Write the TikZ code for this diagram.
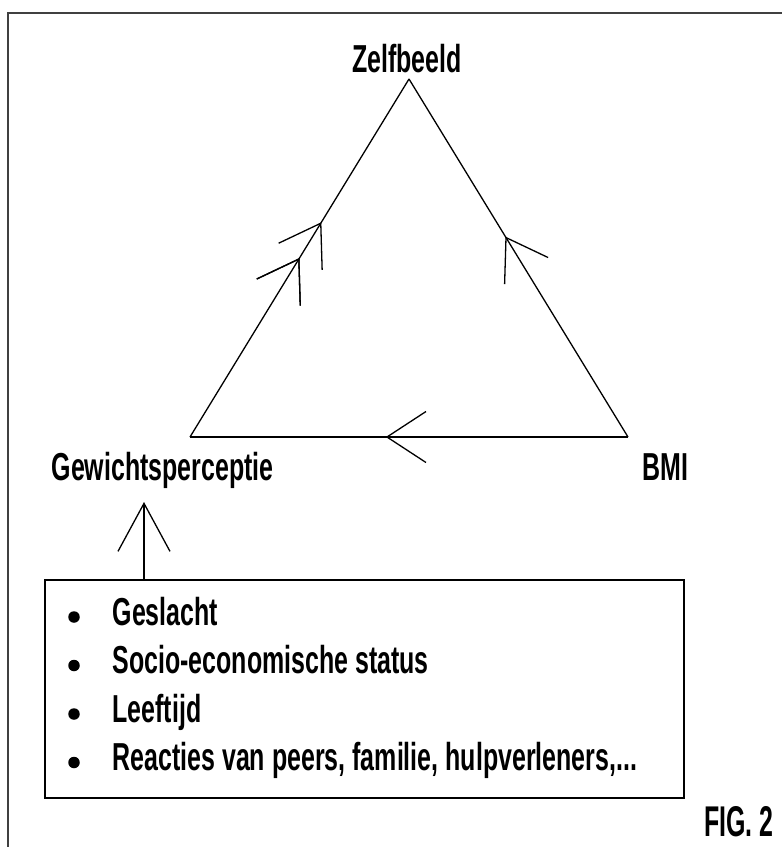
\documentclass[tikz,border=0pt]{standalone}
\usepackage{fontspec}
\setmainfont[FakeStretch=0.64]{Liberation Sans}
\newfontfamily\figfont[FakeStretch=0.58]{Liberation Sans}
\usetikzlibrary{arrows.meta,decorations.markings}

\tikzset{
  lbl/.style={font=\bfseries\fontsize{39}{44}\selectfont, inner sep=0pt},
  bulletdot/.style={circle, fill, minimum size=11.5pt, inner sep=0pt},
  midbarb/.style={postaction={decorate}, decoration={markings,
      mark=at position #1 with {\arrow{Straight Barb[length=39pt,width=51pt]}}}},
}

\begin{document}
\begin{tikzpicture}[x=1pt, y=-1pt, line width=1.3pt]
\useasboundingbox (0,0) rectangle (782,847);
\draw[line width=2.4pt, black!75](8,847) |- (782,13);

\coordinate (top) at (409,79);
\coordinate (left) at (190,437);
\coordinate (right) at (628,437);

\node[lbl, anchor=base] (zelf) at (407,72) {Zelfbeeld};
\node[lbl, anchor=base west] (gew) at (51,480) {Gewichtsperceptie};
\node[lbl, anchor=base west] (bmi) at (642,480) {BMI};
\node[lbl, anchor=base east, font=\figfont\bfseries\fontsize{43}{48}\selectfont] (fig) at (774,836) {FIG. 2};

\draw[midbarb=0.5, postaction={decorate, decoration={markings,
    mark=at position 0.6 with {\arrow{Straight Barb[length=39pt,width=51pt]}}}}](left)--(top);
\draw[midbarb=0.56](right)--(top);
\draw[midbarb=0.553](right)--(left);

\node[draw, line width=1.8pt, minimum width=639pt, minimum height=218pt, inner sep=0pt] (factors) at (364.5,689) {};
\coordinate (gewtip) at (144,502);
\draw[-{Straight Barb[length=48pt,width=52pt]}](factors.north -| gewtip)--(gewtip);

\foreach \txt [count=\i] in {Geslacht, Socio-economische status, Leeftijd, {Reacties van peers, familie, hulpverleners,.{}.{}.}}
{
    \node[bulletdot] (dot\i) at (74,568.5+48.5*\i) {};
    \node[lbl, anchor=base west] (item\i) at (112,576.5+48.5*\i) {\txt};
}
\end{tikzpicture}
\end{document}
